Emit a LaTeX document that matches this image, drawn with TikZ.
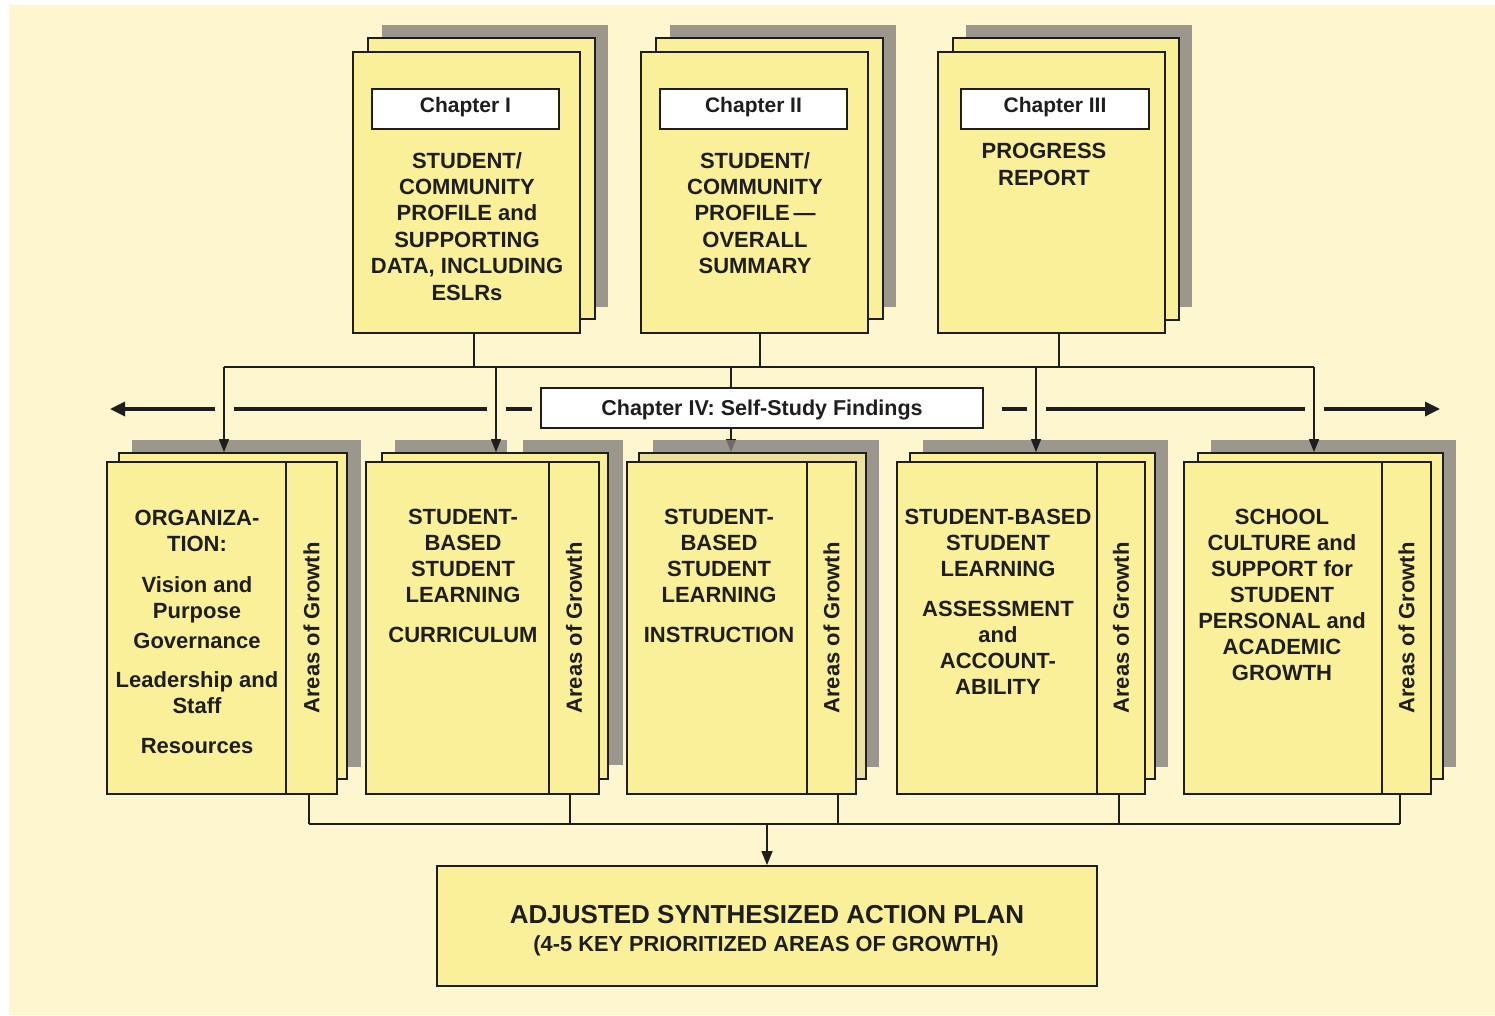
\documentclass[tikz,border=0pt]{standalone}
\usepackage{fontspec}
\setmainfont{Liberation Sans}
\usetikzlibrary{arrows.meta,fit,calc}
\definecolor{cream}{RGB}{254,246,206}
\definecolor{boxy}{RGB}{250,240,154}
\definecolor{boxtan}{RGB}{236,224,158}
\definecolor{shadowc}{RGB}{155,151,141}
\definecolor{shadowt}{RGB}{130,127,125}
\definecolor{linec}{RGB}{30,30,30}
\pgfdeclarelayer{bgl}
\pgfsetlayers{bgl,main}
\begin{document}
\begin{tikzpicture}[x=1pt,y=-1pt,
  shade/.style={fill=shadowc, draw=none, inner sep=0pt},
  shadetr/.style={fill=shadowt, fill opacity=0.8, draw=none, inner sep=0pt},
  page/.style={fill=boxy, draw=linec, line width=1.8pt, inner sep=0pt},
  lbl/.style={fill=white, draw=linec, line width=1.5pt, inner sep=0pt, text=linec, text height=16pt, text depth=8.5pt, font=\fontsize{21}{25}\selectfont\bfseries},
  txt/.style={align=center, inner sep=0pt, text=linec, font=\fontsize{22}{26.4}\selectfont\bfseries},
  rot/.style={rotate=90, inner sep=0pt, text=linec, font=\fontsize{22}{26}\selectfont\bfseries},
  conn/.style={draw=linec, line width=1.4pt},
  arr/.style={conn, -{Triangle[length=13pt,width=10pt]}},
  hline/.style={draw=linec, line width=3.3pt},
  harr/.style={hline, -{Triangle[length=15pt,width=14pt]}},
]
\useasboundingbox (0,0) rectangle (1495,1015);
\begin{pgfonlayer}{bgl}
\fill[white] (0,0) rectangle (1495,1015);
\fill[cream] (9,5) rectangle (1495,1015);
\end{pgfonlayer}

% ---------- top chapter stacks ----------
\node[shade, fit={(382,25)(608,307)}] (c1s) {};
\node[page, fit={(368,38)(595,319)}] (c1m) {};
\node[page, fit={(353,52)(580,333)}] (c1) {};
\node[lbl, minimum width=187pt, minimum height=40pt] (c1l) at (465.5,109) {Chapter I};
\node[txt, anchor=north] (c1t) at (467,152) {STUDENT/\\COMMUNITY\\PROFILE and\\SUPPORTING\\DATA, INCLUDING\\ESLRs};

\node[shade, fit={(670,25)(896,307)}] (c2s) {};
\node[page, fit={(656,38)(883,319)}] (c2m) {};
\node[page, fit={(641,52)(868,333)}] (c2) {};
\node[lbl, minimum width=187pt, minimum height=40pt] (c2l) at (753.5,109) {Chapter II};
\node[txt, anchor=north] (c2t) at (755,152) {STUDENT/\\COMMUNITY\\PROFILE\,—\\OVERALL\\SUMMARY};

\node[shade, fit={(966,25)(1192,307)}] (c3s) {};
\node[page, fit={(953,38)(1179,320)}] (c3m) {};
\node[page, fit={(938,52)(1165,333)}] (c3) {};
\node[lbl, minimum width=188pt, minimum height=40pt] (c3l) at (1055,109) {Chapter III};
\node[txt, anchor=north, font=\fontsize{22}{27}\selectfont\bfseries] (c3t) at (1044,143) {PROGRESS\\REPORT};

% ---------- bottom stacks ----------
\node[shade, fit={(132,440)(361,767)}] (b1s) {};
\node[page, fit={(119,453)(347,779)}] (b1m) {};
\node[page, fit={(107,462)(337,794)}] (b1) {};
\node[page, fit={(286,462)(337,794)}] (s1) {};

\node[shade, fit={(395,440)(623,765)}] (b2s) {};
\fill[cream] (507,439) rectangle (523,453);
\node[page, fit={(382,453)(608,779)}] (b2m) {};
\node[page, fit={(366,462)(599,794)}] (b2) {};
\node[page, fit={(549,462)(599,794)}] (s2) {};

\node[shadetr, fit={(653,440)(879,767)}] (b3s) {};
\node[page, fill=boxtan, fit={(639,453)(866,779)}] (b3m) {};
\node[page, fit={(627,462)(856,794)}] (b3) {};
\node[page, fit={(807,462)(856,794)}] (s3) {};

\node[shade, fit={(923,440)(1168,767)}] (b4s) {};
\node[page, fit={(910,453)(1155,779)}] (b4m) {};
\node[page, fit={(897,462)(1145,794)}] (b4) {};
\node[page, fit={(1097,462)(1145,794)}] (s4) {};

\node[shade, fit={(1211,440)(1456,767)}] (b5s) {};
\node[page, fit={(1198,453)(1443,779)}] (b5m) {};
\node[page, fit={(1184,462)(1431,794)}] (b5) {};
\node[page, fit={(1382,462)(1431,794)}] (s5) {};

\node[txt, anchor=north, font=\fontsize{22}{26}\selectfont\bfseries] (b1t) at (197,510)
  {ORGANIZA-\\TION:\\[15pt]Vision and\\Purpose\\[4pt]Governance\\[13pt]Leadership and\\Staff\\[14pt]Resources};
\node[txt, anchor=north, font=\fontsize{22}{26}\selectfont\bfseries] (b2t) at (463,509)
  {STUDENT-\\BASED\\STUDENT\\LEARNING\\[14pt]CURRICULUM};
\node[txt, anchor=north, font=\fontsize{22}{26}\selectfont\bfseries] (b3t) at (719,509)
  {STUDENT-\\BASED\\STUDENT\\LEARNING\\[14pt]INSTRUCTION};
\node[txt, anchor=north, font=\fontsize{22}{26}\selectfont\bfseries] (b4t) at (998,509)
  {STUDENT-BASED\\STUDENT\\LEARNING\\[14pt]ASSESSMENT\\and\\ACCOUNT-\\ABILITY};
\node[txt, anchor=north, font=\fontsize{22}{26}\selectfont\bfseries] (b5t) at (1282,509)
  {SCHOOL\\CULTURE and\\SUPPORT for\\STUDENT\\PERSONAL and\\ACADEMIC\\GROWTH};

\node[rot] (g1) at (s1.center) {Areas of Growth};
\node[rot] (g2) at (s2.center) {Areas of Growth};
\node[rot] (g3) at (s3.center) {Areas of Growth};
\node[rot] (g4) at (s4.center) {Areas of Growth};
\node[rot] (g5) at (s5.center) {Areas of Growth};

% ---------- action plan ----------
\node[page, fit={(437,866)(1097,986)}] (ap) {};
\node[inner sep=0pt, text=linec, font=\fontsize{26}{30}\selectfont\bfseries] (ap1) at (767,915) {ADJUSTED SYNTHESIZED ACTION PLAN};
\node[inner sep=0pt, text=linec, font=\fontsize{21.8}{26}\selectfont\bfseries] (ap2) at (766,946) {(4-5 KEY PRIORITIZED AREAS OF GROWTH)};

% ---------- top bus ----------
\coordinate (d1) at (224,367);
\coordinate (d2) at (496,367);
\coordinate (d3) at (731,367);
\coordinate (d4) at (1036,367);
\coordinate (d5) at (1314,367);
\coordinate (t1) at (474,367);
\coordinate (t2) at (760,367);
\coordinate (t3) at (1059,367);
\coordinate (aL) at (110,409);
\coordinate (aR) at (1440,409);

\begin{pgfonlayer}{bgl}
\draw[arr] (d3) -- (d3 |- b3m.north);
\end{pgfonlayer}

% horizontal arrow line through Chapter IV
\draw[harr] ($(aL -| 541,0)+(-9,0)$) -- (aL);
\draw[harr] ($(aR -| 983,0)+(19,0)$) -- (aR);
\foreach \c in {d1,d2,d4,d5}
  \fill[cream] ($(\c |- aL)+(-9.5,-3)$) rectangle ($(\c |- aL)+(9.5,3)$);

\node[lbl, text depth=1pt, font=\fontsize{21.5}{25}\selectfont\bfseries, minimum width=442pt, minimum height=40pt] (ch4) at (762,408) {Chapter IV: Self-Study Findings};

\draw[conn] (c1.south -| t1) -- (t1);
\draw[conn] (c2.south -| t2) -- (t2);
\draw[conn] (c3.south -| t3) -- (t3);
\draw[conn] (d1) -- (d5);
\draw[arr] (d1) -- (d1 |- b1m.north);
\draw[arr] (d2) -- (d2 |- b2m.north);
\draw[arr] (d4) -- (d4 |- b4m.north);
\draw[arr] (d5) -- (d5 |- b5m.north);

% ---------- bottom bus ----------
\coordinate (u1) at (309,824);
\coordinate (u2) at (570,824);
\coordinate (u3) at (838,824);
\coordinate (u4) at (1119,824);
\coordinate (u5) at (1400,824);
\coordinate (um) at (767,824);
\draw[conn] (b1.south -| u1) -- (u1);
\draw[conn] (b2.south -| u2) -- (u2);
\draw[conn] (b3.south -| u3) -- (u3);
\draw[conn] (b4.south -| u4) -- (u4);
\draw[conn] (b5.south -| u5) -- (u5);
\draw[conn] (u1) -- (u5);
\draw[arr, -{Triangle[length=14pt,width=11pt]}] (um) -- (um |- ap.north);
\end{tikzpicture}
\end{document}
